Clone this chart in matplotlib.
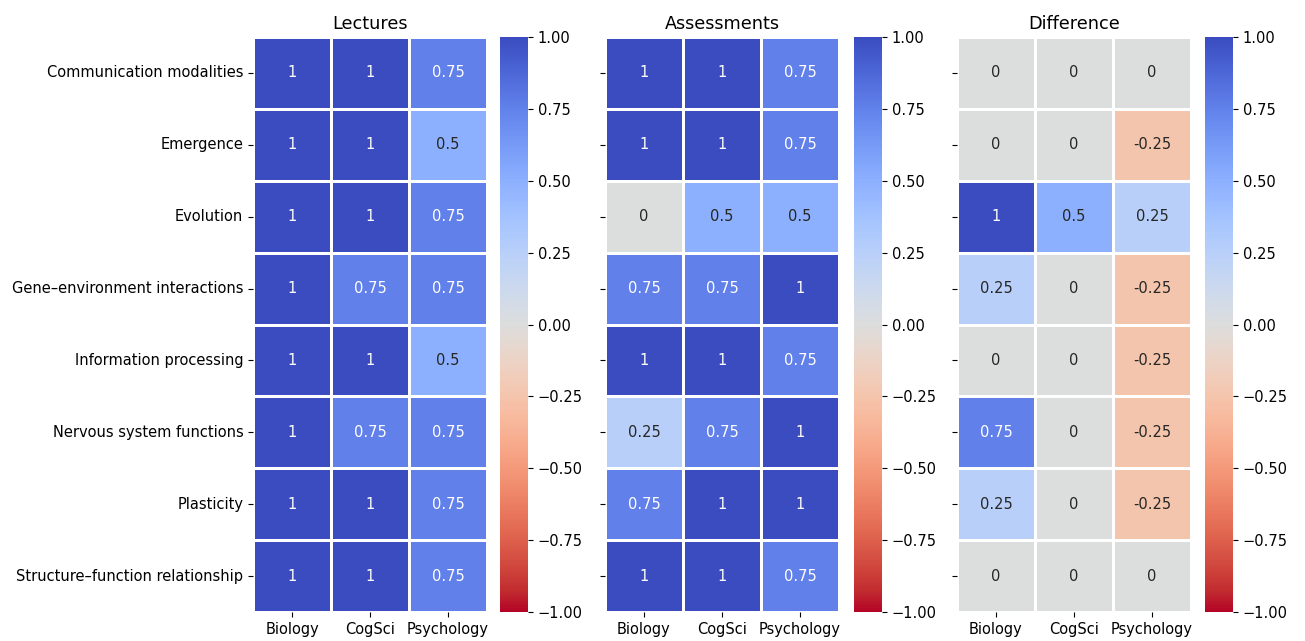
import matplotlib
matplotlib.use("Agg")
from matplotlib import pyplot as plt
import seaborn as sns
import pandas as pd

topics = ['Communication modalities', 'Emergence', 'Evolution',
          'Gene\u2013environment interactions', 'Information processing',
          'Nervous system functions', 'Plasticity',
          'Structure\u2013function relationship']
disciplines = ['Biology', 'CogSci', 'Psychology']

lectures_biology = [1, 1, 1, 1, 1, 1, 1, 1]
lectures_cogsci = [1, 1, 1, 0.75, 1, 0.75, 1, 1]
lectures_psychology = [0.75, 0.5, 0.75, 0.75, 0.5, 0.75, 0.75, 0.75]

assess_biology = [1, 1, 0, 0.75, 1, 0.25, 0.75, 1]
assess_cogsci = [1, 1, 0.5, 0.75, 1, 0.75, 1, 1]
assess_psychology = [0.75, 0.75, 0.5, 1, 0.75, 1, 1, 0.75]

diff_biology = [0, 0, 1, 0.25, 0, 0.75, 0.25, 0]
diff_cogsci = [0, 0, 0.5, 0, 0, 0, 0, 0]
diff_psychology = [0, -0.25, 0.25, -0.25, -0.25, -0.25, -0.25, 0]

lectures = pd.DataFrame({'Biology': lectures_biology, 'CogSci': lectures_cogsci,
                         'Psychology': lectures_psychology}, index=topics)
assessments = pd.DataFrame({'Biology': assess_biology, 'CogSci': assess_cogsci,
                            'Psychology': assess_psychology}, index=topics)
difference = pd.DataFrame({'Biology': diff_biology, 'CogSci': diff_cogsci,
                           'Psychology': diff_psychology}, index=topics)

fs = 10.55
fig = plt.figure(figsize=(13.05, 6.41), dpi=100)

bottom = 0.0452
height = 0.897
heat_w = 0.1793
cbar_w = 0.0215
panels = [
    (lectures, 'Lectures', 0.1939, 0.3831, True),
    (assessments, 'Assessments', 0.4636, 0.6544, False),
    (difference, 'Difference', 0.7333, 0.9234, False),
]

for data, title, hx, cx, show_labels in panels:
    ax = fig.add_axes([hx, bottom, heat_w, height])
    cax = fig.add_axes([cx, bottom, cbar_w, height])
    sns.heatmap(data, ax=ax, cbar_ax=cax, cmap='coolwarm_r', vmin=-1, vmax=1,
                annot=True, linewidths=0.9, linecolor='white',
                annot_kws={'fontsize': fs})
    ax.set_title(title, fontsize=12.7)
    ax.tick_params(axis='y', rotation=0, labelsize=fs)
    ax.tick_params(axis='x', labelsize=fs)
    if not show_labels:
        ax.set_yticklabels([])
    cax.set_yticks([-1, -0.75, -0.5, -0.25, 0, 0.25, 0.5, 0.75, 1])
    cax.set_yticklabels(['\u22121.00', '\u22120.75', '\u22120.50', '\u22120.25',
                         '0.00', '0.25', '0.50', '0.75', '1.00'])
    cax.tick_params(labelsize=fs)

plt.savefig('out.png', dpi=100)
